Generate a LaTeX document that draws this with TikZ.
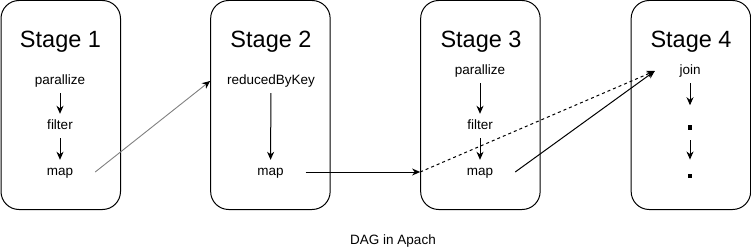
\documentclass[tikz,border=0pt]{standalone}
\usepackage{fontspec}
\setmainfont{Liberation Sans}
\usetikzlibrary{arrows.meta}
\begin{document}
\begin{tikzpicture}[x=1pt,y=-1pt,
  stagebox/.style={draw=black,line width=1pt,rounded corners=18pt,
    minimum width=119.5pt,minimum height=209pt,inner sep=0pt},
  stagetitle/.style={font=\fontsize{23.5}{28}\selectfont,inner sep=0pt},
  op/.style={font=\fontsize{13.5}{16}\selectfont,inner sep=0pt,
    minimum width=70pt,minimum height=24pt,text height=9.5pt,text depth=2.5pt},
  dotmark/.style={fill=black,inner sep=0pt,minimum width=4pt,minimum height=4.5pt},
  arr/.style={line width=1pt,-{Stealth[length=8pt,width=7pt,inset=2.5pt]}},
  caption/.style={font=\fontsize{13.5}{16}\selectfont,inner sep=0pt}
]
\useasboundingbox (0,0) rectangle (751,251);

% stage containers
\node[stagebox] (b1) at (60.75,105) {};
\node[stagebox] (b2) at (270.4,105) {};
\node[stagebox] (b3) at (480.4,105) {};
\node[stagebox] (b4) at (690.9,105) {};

% stage titles
\node[stagetitle] (t1) at (60.5,42) {Stage 1};
\node[stagetitle] (t2) at (271,42) {Stage 2};
\node[stagetitle] (t3) at (481,42) {Stage 3};
\node[stagetitle] (t4) at (691,42) {Stage 4};

% stage 1 operations
\node[op] (p1) at (60,81) {parallize};
\node[op] (f1) at (60,126) {filter};
\node[op] (m1) at (60,172) {map};
\draw[arr] (p1) -- (f1);
\draw[arr] (f1) -- (m1);

% stage 2 operations
\node[op] (rbk) at (271,81) {reducedByKey};
\node[op] (m2) at (270.5,172) {map};
\draw[arr] (rbk) -- (m2);

% stage 3 operations
\node[op] (p3) at (480,71) {parallize};
\node[op] (f3) at (480,126) {filter};
\node[op] (m3) at (480,172) {map};
\draw[arr] (p3) -- (f3);
\draw[arr] (f3) -- (m3);

% stage 4 operations
\node[op] (join) at (690,71) {join};
\node[dotmark] (dot1) at (690,127.7) {};
\node[dotmark] (dot2) at (690,176) {};
\draw[arr] (join) -- ([yshift=20pt]dot1.north);
\draw[arr] ([yshift=-10pt]dot1.south) -- ([yshift=14pt]dot2.north);

% dependencies between stages
\draw[line width=0.9pt,draw={rgb,255:red,128;green,128;blue,128},
  -{Stealth[length=8pt,width=7pt,inset=2.5pt,color=black]}]
  (m1.east) -- (b2.west |- rbk);
\draw[arr] (m2.east) -- (b3.west |- m2);
\draw[arr,dash pattern=on 3pt off 3pt] (b3.west |- m2) -- (join.west);
\draw[arr] (m3.east) -- (join.west);

% caption
\node[caption] (cap) at (393,241) {DAG in Apach};
\end{tikzpicture}
\end{document}
